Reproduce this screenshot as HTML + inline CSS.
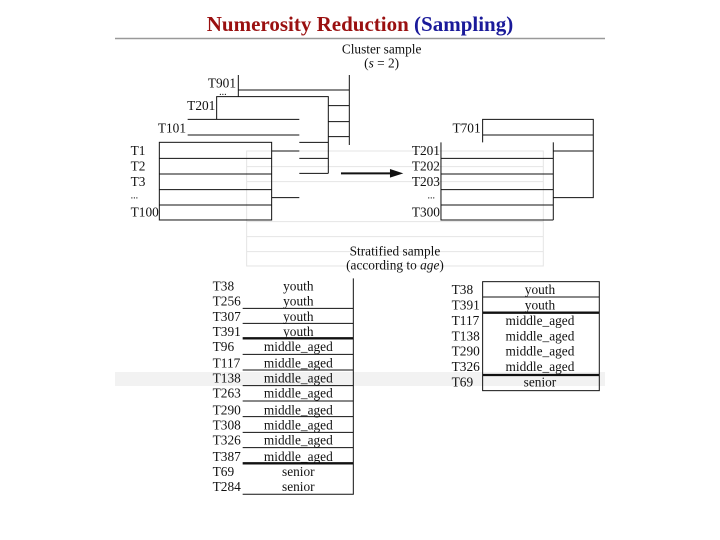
<!DOCTYPE html>
<html><head><meta charset="utf-8"><style>
html,body{margin:0;padding:0;background:#fff;width:720px;height:540px;overflow:hidden}
svg{display:block}
text{font-family:"Liberation Serif",serif;fill:#111}
</style></head><body>
<svg width="720" height="540" viewBox="0 0 720 540" xmlns="http://www.w3.org/2000/svg">
<text x="360" y="31" text-anchor="middle" font-size="21" font-weight="bold" style="fill:#9a1010">Numerosity Reduction <tspan style="fill:#1a1a9a">(Sampling)</tspan></text>
<line x1="115" y1="38.5" x2="605" y2="38.5" stroke="#999" stroke-width="1.5"/>
<rect x="115" y="372" width="490" height="14" fill="#f2f2f2"/>
<g transform="translate(110,35) scale(0.3333)" stroke="#111" stroke-width="3" fill="none">
  <!-- faded background -->
  <g stroke="#e4e4e4">
    <rect x="410" y="348" width="890" height="345"/>
    <line x1="410" y1="395" x2="1300" y2="395"/><line x1="410" y1="440" x2="1300" y2="440"/>
    <line x1="410" y1="560" x2="1300" y2="560"/><line x1="410" y1="605" x2="1300" y2="605"/><line x1="410" y1="650" x2="1300" y2="650"/>
  </g>
  <!-- T901 layer -->
  <polyline points="385,120 385,185"/><line x1="385" y1="165" x2="718" y2="165"/><line x1="718" y1="120" x2="718" y2="330"/>
  <line x1="655" y1="212" x2="718" y2="212"/><line x1="655" y1="260" x2="718" y2="260"/><line x1="655" y1="305" x2="718" y2="305"/>
  <!-- T201 layer -->
  <polyline points="320,252 320,185 655,185 655,415"/>
  <line x1="568" y1="322" x2="655" y2="322"/><line x1="568" y1="370" x2="655" y2="370"/><line x1="568" y1="415" x2="655" y2="415"/>
  <!-- T101 layer -->
  <line x1="233" y1="253" x2="568" y2="253"/><line x1="233" y1="300" x2="568" y2="300"/>
  <line x1="485" y1="348" x2="568" y2="348"/><line x1="485" y1="488" x2="568" y2="488"/>
  <!-- T1 box -->
  <rect x="148" y="322" width="337" height="233"/>
  <line x1="148" y1="370" x2="485" y2="370"/><line x1="148" y1="417" x2="485" y2="417"/><line x1="148" y1="464" x2="485" y2="464"/><line x1="148" y1="510" x2="485" y2="510"/>
  <!-- arrow -->
  <line x1="693" y1="415" x2="850" y2="415" stroke-width="6"/>
  <polygon points="880,415 840,402 840,428" fill="#111" stroke="none"/>
  <!-- right -->
  <polyline points="1118,322 1118,253 1450,253 1450,488 1330,488"/>
  <line x1="1118" y1="300" x2="1450" y2="300"/><line x1="1330" y1="348" x2="1450" y2="348"/>
  <line x1="1330" y1="322" x2="1330" y2="555"/>
  <polyline points="993,322 993,555 1330,555"/>
  <line x1="993" y1="370" x2="1330" y2="370"/><line x1="993" y1="417" x2="1330" y2="417"/><line x1="993" y1="464" x2="1330" y2="464"/><line x1="993" y1="510" x2="1330" y2="510"/>
  <g stroke="none" font-size="40">
    <text x="815" y="55" text-anchor="middle">Cluster sample</text>
    <text x="815" y="97" text-anchor="middle">(<tspan font-style="italic">s</tspan> = 2)</text>
    <text x="378" y="158" text-anchor="end">T901</text>
    <text x="350" y="180" text-anchor="end" font-size="30">...</text>
    <text x="316" y="225" text-anchor="end">T201</text>
    <text x="228" y="292" text-anchor="end">T101</text>
    <text x="62" y="360">T1</text><text x="62" y="407">T2</text><text x="62" y="453">T3</text>
    <text x="62" y="490" font-size="30">...</text><text x="62" y="545">T100</text>
    <text x="1112" y="292" text-anchor="end">T701</text>
    <text x="990" y="360" text-anchor="end">T201</text><text x="990" y="407" text-anchor="end">T202</text>
    <text x="990" y="453" text-anchor="end">T203</text><text x="975" y="490" text-anchor="end" font-size="30">...</text>
    <text x="990" y="545" text-anchor="end">T300</text>
    <text x="855" y="661" text-anchor="middle">Stratified sample</text>
    <text x="855" y="703" text-anchor="middle">(according to <tspan font-style="italic">age</tspan>)</text>
  </g>
</g>
<g transform="translate(200,275) scale(0.3333)" stroke="#111" stroke-width="3" fill="none">
  <polyline points="460,10 460,658 128,658"/>
  <line x1="128" y1="100" x2="460" y2="100"/><line x1="128" y1="145" x2="460" y2="145"/>
  <line x1="128" y1="190" x2="460" y2="190" stroke-width="7"/>
  <line x1="128" y1="238" x2="460" y2="238"/><line x1="128" y1="285" x2="460" y2="285"/>
  <line x1="128" y1="332" x2="460" y2="332"/><line x1="128" y1="378" x2="460" y2="378"/>
  <line x1="128" y1="425" x2="460" y2="425"/><line x1="128" y1="472" x2="460" y2="472"/>
  <line x1="128" y1="518" x2="460" y2="518"/>
  <line x1="128" y1="565" x2="460" y2="565" stroke-width="7"/>
  <rect x="848" y="20" width="350" height="327"/>
  <line x1="848" y1="66" x2="1198" y2="66"/>
  <line x1="848" y1="113" x2="1198" y2="113" stroke-width="7"/>
  <line x1="848" y1="300" x2="1198" y2="300" stroke-width="7"/>
  <g stroke="none" font-size="40">
    <text x="38" y="46">T38</text><text x="38" y="91">T256</text><text x="38" y="138">T307</text><text x="38" y="183">T391</text>
    <text x="38" y="228">T96</text><text x="38" y="278">T117</text><text x="38" y="323">T138</text><text x="38" y="368">T263</text>
    <text x="38" y="418">T290</text><text x="38" y="463">T308</text><text x="38" y="508">T326</text><text x="38" y="558">T387</text>
    <text x="38" y="603">T69</text><text x="38" y="648">T284</text>
    <g text-anchor="middle">
    <text x="295" y="46">youth</text><text x="295" y="91">youth</text><text x="295" y="138">youth</text><text x="295" y="183">youth</text>
    <text x="295" y="228">middle_aged</text><text x="295" y="278">middle_aged</text><text x="295" y="323">middle_aged</text><text x="295" y="368">middle_aged</text>
    <text x="295" y="418">middle_aged</text><text x="295" y="463">middle_aged</text><text x="295" y="508">middle_aged</text><text x="295" y="558">middle_aged</text>
    <text x="295" y="603">senior</text><text x="295" y="648">senior</text>
    <text x="1020" y="57">youth</text><text x="1020" y="103">youth</text><text x="1020" y="150">middle_aged</text>
    <text x="1020" y="196">middle_aged</text><text x="1020" y="242">middle_aged</text><text x="1020" y="288">middle_aged</text>
    <text x="1020" y="335">senior</text>
    </g>
    <text x="755" y="57">T38</text><text x="755" y="103">T391</text><text x="755" y="150">T117</text><text x="755" y="196">T138</text>
    <text x="755" y="242">T290</text><text x="755" y="288">T326</text><text x="755" y="335">T69</text>
  </g>
</g>
</svg>
</body></html>
